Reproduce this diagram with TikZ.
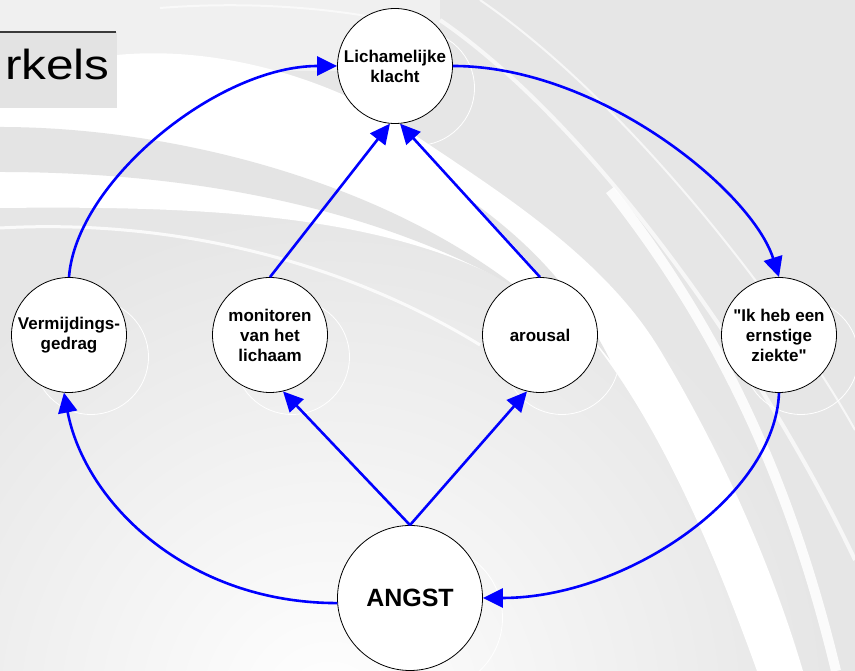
\documentclass[tikz,border=0pt]{standalone}
\usepackage{fontspec}
\setmainfont{Liberation Sans}
\usetikzlibrary{arrows.meta}
\definecolor{slidegray}{HTML}{E6E6E6}
\definecolor{bandgray}{HTML}{E4E4E4}
\definecolor{titlegray}{HTML}{E3E3E3}
\definecolor{titleline}{HTML}{3A3A3A}
\tikzset{
  state/.style={circle, draw=black, line width=0.8pt, fill=white, minimum size=115pt, inner sep=0pt, align=center, font=\bfseries\fontsize{17}{20}\selectfont},
  bigstate/.style={state, minimum size=145pt, font=\bfseries\fontsize{25}{30}\selectfont},
  link/.style={draw=blue, line width=2.6pt, -{Triangle[length=20pt,width=19pt]}},
  ghost/.style={draw=white, line width=0.8pt},
}

\begin{document}
\begin{tikzpicture}[x=1pt,y=1pt]
\useasboundingbox (0,0) rectangle (855,671);

% slide background
\begin{scope}
  \clip (0,0) rectangle (855,671);
  \fill[slidegray] (0,0) rectangle (855,671);
  \fill[white!40!slidegray] (0,671) rectangle (440,600);
  \shade[inner color=white, outer color=slidegray] (330,-40) circle (500);
  \begin{scope}[yshift=671pt, yscale=-1]
    \fill[white] (0,108) -- (117,108) -- (117,55) .. controls (220,45) and (330,80) .. (400,125)
      .. controls (480,180) and (600,250) .. (660,350) .. controls (720,450) and (770,560) .. (803,671)
      -- (757,671) .. controls (710,540) and (660,430) .. (600,350)
      .. controls (470,220) and (260,205) .. (0,208) -- cycle;
    \fill[bandgray] (0,127) .. controls (170,127) and (380,180) .. (520,290)
      .. controls (380,210) and (200,172) .. (0,172) -- cycle;
    \fill[bandgray] (470,200) .. controls (540,250) and (580,300) .. (610,360)
      .. controls (570,310) and (530,260) .. (470,200) -- cycle;
    \draw[white, line width=3pt, opacity=.8] (0,228) .. controls (180,218) and (350,265) .. (480,345);
    \draw[white, line width=10pt, opacity=.85] (610,190) .. controls (720,330) and (790,480) .. (836,671);
    \draw[white, line width=4pt, opacity=.7] (440,20) .. controls (600,130) and (770,380) .. (855,560);
    \draw[white, line width=2pt, opacity=.7] (480,0) .. controls (640,110) and (800,330) .. (855,430);
    \draw[white, line width=2pt, opacity=.6] (160,8) .. controls (260,0) and (360,10) .. (430,30);
  \end{scope}
  % faint copies of the circles
  \draw[ghost] (417,583) circle (57.5);
  \draw[ghost] (91,314) circle (57.5);
  \draw[ghost] (292,314) circle (57.5);
  \draw[ghost] (562,314) circle (57.5);
  \draw[ghost] (801,314) circle (57.5);
  \draw[ghost] (430,53) circle (72.5);
\end{scope}

% title fragment
\fill[titlegray] (0,563) rectangle (117,639);
\draw[line width=1.2pt, titleline] (0,639) -- (116,639);
\node[anchor=base east, inner sep=0pt, font=\fontsize{42}{48}\selectfont, xscale=1.18, transform shape] (title) at (110,591) {rkels};

% circles
\node[state] (L) at (395,605) {Lichamelijke\\klacht};
\node[state] (V) at (69,336) {Vermijdings-\\gedrag};
\node[state] (M) at (270,336) {monitoren\\van het\\lichaam};
\node[state] (A) at (540,336) {arousal};
\node[state] (I) at (779,336) {\textquotedbl Ik heb een\\ernstige\\ziekte\textquotedbl};
\node[bigstate] (G) at (410,73) {ANGST};

% outer cycle
\draw[link] (V.north) .. controls +(7,95) and +(-120,0) .. (L.west);
\draw[link] (L.east) .. controls +(146,0) and +(-27,86) .. (I.north);
\draw[link] (I.south) .. controls +(-4,-104) and +(142,0) .. (G.east);
\draw[link] (G.184) .. controls +(-150,0) and +(21,-110) .. (V.265);

% inner paths
\draw[link] (G.north) -- (M.283);
\draw[link] (G.north) -- (A.257);
\draw[link] (M.north) -- (L.265);
\draw[link] (A.north) -- (L.275);
\end{tikzpicture}
\end{document}
